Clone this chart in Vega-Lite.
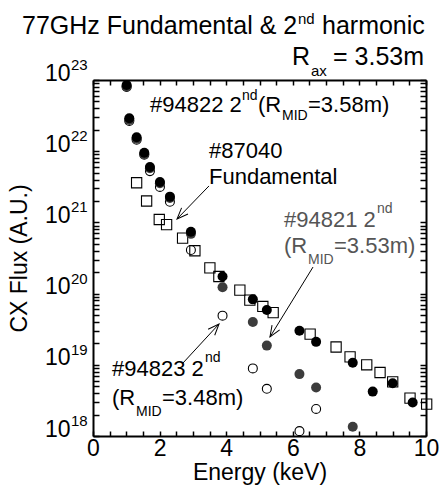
{
  "$schema": "https://vega.github.io/schema/vega-lite/v6.json",
  "autosize": "none",
  "width": 333,
  "height": 356,
  "padding": {"left": 93, "top": 80, "right": 19, "bottom": 51},
  "background": "white",
  "config": {
    "font": "Liberation Sans",
    "view": {"stroke": null},
    "axis": {
      "domainColor": "black", "domainWidth": 2, "tickColor": "black", "tickWidth": 1.5,
      "labelColor": "black", "titleColor": "black", "grid": false,
      "labelFont": "Liberation Sans", "titleFont": "Liberation Sans", "titleFontWeight": "normal",
      "labelOverlap": false, "labelFlush": false
    }
  },
  "datasets": {
    "pts": [
      {"s": "87040", "energy": 1.31, "flux": 3.6e21},
      {"s": "87040", "energy": 1.61, "flux": 2.0e21},
      {"s": "87040", "energy": 1.99, "flux": 1.1e21},
      {"s": "87040", "energy": 2.21, "flux": 9.3e20},
      {"s": "87040", "energy": 2.69, "flux": 6.0e20},
      {"s": "87040", "energy": 3.06, "flux": 4.0e20},
      {"s": "87040", "energy": 3.51, "flux": 2.3e20},
      {"s": "87040", "energy": 3.78, "flux": 1.74e20},
      {"s": "87040", "energy": 4.41, "flux": 1.12e20},
      {"s": "87040", "energy": 4.71, "flux": 8.1e19},
      {"s": "87040", "energy": 5.10, "flux": 6.6e19},
      {"s": "87040", "energy": 5.41, "flux": 5.4e19},
      {"s": "87040", "energy": 6.52, "flux": 2.7e19},
      {"s": "87040", "energy": 7.30, "flux": 1.78e19},
      {"s": "87040", "energy": 7.72, "flux": 1.29e19},
      {"s": "87040", "energy": 8.22, "flux": 1.0e19},
      {"s": "87040", "energy": 8.62, "flux": 7.8e18},
      {"s": "87040", "energy": 9.00, "flux": 5.75e18},
      {"s": "87040", "energy": 9.52, "flux": 3.4e18},
      {"s": "87040", "energy": 10.02, "flux": 2.8e18},
      {"s": "94823", "energy": 1.01, "flux": 8.0e22},
      {"s": "94823", "energy": 1.09, "flux": 2.65e22},
      {"s": "94823", "energy": 1.31, "flux": 1.45e22},
      {"s": "94823", "energy": 1.54, "flux": 8.9e21},
      {"s": "94823", "energy": 1.71, "flux": 5.25e21},
      {"s": "94823", "energy": 2.01, "flux": 3.15e21},
      {"s": "94823", "energy": 2.31, "flux": 1.95e21},
      {"s": "94823", "energy": 2.94, "flux": 4.1e20},
      {"s": "94823", "energy": 3.89, "flux": 4.9e19},
      {"s": "94823", "energy": 4.80, "flux": 8.9e18},
      {"s": "94823", "energy": 5.22, "flux": 4.6e18},
      {"s": "94823", "energy": 6.20, "flux": 1.17e18},
      {"s": "94823", "energy": 6.70, "flux": 2.4e18},
      {"s": "94821", "energy": 1.01, "flux": 8.1e22},
      {"s": "94821", "energy": 1.09, "flux": 2.75e22},
      {"s": "94821", "energy": 1.31, "flux": 1.5e22},
      {"s": "94821", "energy": 1.54, "flux": 9.1e21},
      {"s": "94821", "energy": 1.71, "flux": 5.75e21},
      {"s": "94821", "energy": 2.01, "flux": 3.55e21},
      {"s": "94821", "energy": 2.31, "flux": 2.2e21},
      {"s": "94821", "energy": 2.94, "flux": 6.9e20},
      {"s": "94821", "energy": 3.89, "flux": 1.23e20},
      {"s": "94821", "energy": 4.80, "flux": 4.0e19},
      {"s": "94821", "energy": 5.22, "flux": 1.86e19},
      {"s": "94821", "energy": 6.20, "flux": 7.4e18},
      {"s": "94821", "energy": 6.70, "flux": 4.8e18},
      {"s": "94821", "energy": 7.80, "flux": 1.35e18},
      {"s": "94822", "energy": 1.01, "flux": 8.5e22},
      {"s": "94822", "energy": 1.09, "flux": 2.9e22},
      {"s": "94822", "energy": 1.31, "flux": 1.57e22},
      {"s": "94822", "energy": 1.54, "flux": 9.5e21},
      {"s": "94822", "energy": 1.71, "flux": 6.0e21},
      {"s": "94822", "energy": 2.01, "flux": 3.7e21},
      {"s": "94822", "energy": 2.31, "flux": 2.3e21},
      {"s": "94822", "energy": 2.94, "flux": 7.4e20},
      {"s": "94822", "energy": 3.89, "flux": 1.74e20},
      {"s": "94822", "energy": 4.80, "flux": 8.3e19},
      {"s": "94822", "energy": 5.22, "flux": 5.9e19},
      {"s": "94822", "energy": 6.20, "flux": 3.0e19},
      {"s": "94822", "energy": 6.70, "flux": 2.1e19},
      {"s": "94822", "energy": 7.80, "flux": 1.07e19},
      {"s": "94822", "energy": 8.40, "flux": 4.2e18},
      {"s": "94822", "energy": 9.00, "flux": 5.5e18},
      {"s": "94822", "energy": 9.60, "flux": 2.95e18}
    ],
    "notes": [
      {"k": "tmain", "g": "k", "t": "77GHz Fundamental & 2", "x": -2.132, "y": 4.43e23},
      {"k": "tsup", "g": "k", "t": "nd", "x": 6.156, "y": 6.12e23},
      {"k": "tmain", "g": "k", "t": "harmonic", "x": 6.877, "y": 4.43e23},
      {"k": "tmain", "g": "k", "t": "R", "x": 5.976, "y": 1.625e23},
      {"k": "tsub", "g": "k", "t": "ax", "x": 6.547, "y": 1.138e23},
      {"k": "tmain", "g": "k", "t": "= 3.53m", "x": 7.207, "y": 1.625e23},
      {"k": "main", "g": "k", "t": "#94822 2", "x": 1.712, "y": 3.56e22},
      {"k": "sup", "g": "k", "t": "nd", "x": 4.474, "y": 5.24e22},
      {"k": "main", "g": "k", "t": "(R", "x": 4.955, "y": 3.56e22},
      {"k": "sub", "g": "k", "t": "MID", "x": 5.676, "y": 2.74e22},
      {"k": "main", "g": "k", "t": "=3.58m)", "x": 6.456, "y": 3.56e22},
      {"k": "main", "g": "k", "t": "#87040", "x": 3.483, "y": 8.02e21},
      {"k": "main", "g": "k", "t": "Fundamental", "x": 3.483, "y": 3.46e21},
      {"k": "main", "g": "g", "t": "#94821 2", "x": 5.736, "y": 8.61e20},
      {"k": "sup", "g": "g", "t": "nd", "x": 8.529, "y": 1.355e21},
      {"k": "main", "g": "g", "t": "(R", "x": 5.736, "y": 3.72e20},
      {"k": "sub", "g": "g", "t": "MID", "x": 6.456, "y": 2.61e20},
      {"k": "main", "g": "g", "t": "=3.53m)", "x": 7.237, "y": 3.72e20},
      {"k": "main", "g": "k", "t": "#94823 2", "x": 0.571, "y": 6.96e18},
      {"k": "sup", "g": "k", "t": "nd", "x": 3.363, "y": 1.095e19},
      {"k": "main", "g": "k", "t": "(R", "x": 0.571, "y": 2.72e18},
      {"k": "sub", "g": "k", "t": "MID", "x": 1.291, "y": 1.91e18},
      {"k": "main", "g": "k", "t": "=3.48m)", "x": 2.072, "y": 2.72e18}
    ],
    "dec": [
      {"v": 1e18, "e": "18"},
      {"v": 1e19, "e": "19"},
      {"v": 1e20, "e": "20"},
      {"v": 1e21, "e": "21"},
      {"v": 1e22, "e": "22"},
      {"v": 1e23, "e": "23"}
    ],
    "arrows": [
      {"a": 2, "x": 3.483, "y": 3.25e21, "x2": 2.523, "y2": 1.117e21},
      {"a": 3, "x": 6.607, "y": 2.36e20, "x2": 5.315, "y2": 2.46e19},
      {"a": 4, "x": 2.703, "y": 1.06e19, "x2": 3.784, "y2": 3.74e19}
    ]
  },
  "resolve": {"axis": {"x": "independent", "y": "independent"}},
  "layer": [
    {
      "data": {"name": "pts"},
      "transform": [{"filter": "datum.s === '87040'"}],
      "mark": {"type": "point", "shape": "square", "filled": false, "stroke": "black", "strokeWidth": 1.1, "size": 105, "opacity": 1},
      "encoding": {
        "x": {"field": "energy", "type": "quantitative", "scale": {"domain": [0, 10], "nice": false, "zero": false},
          "axis": {"orient": "bottom", "values": [0,0.5,1,1.5,2,2.5,3,3.5,4,4.5,5,5.5,6,6.5,7,7.5,8,8.5,9,9.5,10],
            "labelExpr": "datum.value % 2 === 0 ? format(datum.value, 'd') : ''", "tickSize": -5, "labelPadding": 6, "labelFontSize": 23,
            "title": "Energy (keV)", "titleFontSize": 23, "titleY": 43, "titleBaseline": "alphabetic"}},
        "y": {"field": "flux", "type": "quantitative", "scale": {"type": "log", "domain": [1e18, 1e23], "nice": false},
          "axis": {"orient": "left",
            "values": [1e18,2e18,3e18,4e18,5e18,6e18,7e18,8e18,9e18,1e19,2e19,3e19,4e19,5e19,6e19,7e19,8e19,9e19,1e20,2e20,3e20,4e20,5e20,6e20,7e20,8e20,9e20,1e21,2e21,3e21,4e21,5e21,6e21,7e21,8e21,9e21,1e22,2e22,3e22,4e22,5e22,6e22,7e22,8e22,9e22,1e23],
            "labelExpr": "datum.value == 1e18 || datum.value == 1e19 || datum.value == 1e20 || datum.value == 1e21 || datum.value == 1e22 || datum.value == 1e23 ? '10' : ''",
            "tickSize": -6, "labelPadding": 29, "labelFontSize": 23, "labelBaseline": "alphabetic", "labelAlign": "right",
            "title": "CX Flux (A.U.)", "titleFontSize": 23, "titleX": -67, "titleY": 178, "titleBaseline": "alphabetic", "titleAngle": -90}}
      }
    },
    {
      "data": {"name": "pts"},
      "transform": [{"filter": "datum.s === '94823'"}],
      "mark": {"type": "point", "shape": "circle", "filled": false, "stroke": "black", "strokeWidth": 1.1, "size": 80, "opacity": 1},
      "encoding": {
        "x": {"field": "energy", "type": "quantitative", "scale": {"domain": [0, 10], "nice": false, "zero": false},
          "axis": {"orient": "top", "values": [0,0.5,1,1.5,2,2.5,3,3.5,4,4.5,5,5.5,6,6.5,7,7.5,8,8.5,9,9.5,10], "labels": false, "tickSize": -5, "title": null}},
        "y": {"field": "flux", "type": "quantitative", "scale": {"type": "log", "domain": [1e18, 1e23], "nice": false},
          "axis": {"orient": "right",
            "values": [1e18,2e18,3e18,4e18,5e18,6e18,7e18,8e18,9e18,1e19,2e19,3e19,4e19,5e19,6e19,7e19,8e19,9e19,1e20,2e20,3e20,4e20,5e20,6e20,7e20,8e20,9e20,1e21,2e21,3e21,4e21,5e21,6e21,7e21,8e21,9e21,1e22,2e22,3e22,4e22,5e22,6e22,7e22,8e22,9e22,1e23],
            "labels": false, "tickSize": -6, "title": null}}
      }
    },
    {
      "data": {"name": "pts"},
      "transform": [{"filter": "datum.s === '94821'"}],
      "mark": {"type": "circle", "color": "#3c3c3c", "size": 100, "opacity": 1},
      "encoding": {
        "x": {"field": "energy", "type": "quantitative", "scale": {"domain": [0, 10], "nice": false, "zero": false}, "axis": null},
        "y": {"field": "flux", "type": "quantitative", "scale": {"type": "log", "domain": [1e18, 1e23], "nice": false}, "axis": null}
      }
    },
    {
      "data": {"name": "pts"},
      "transform": [{"filter": "datum.s === '94822'"}],
      "mark": {"type": "circle", "color": "black", "size": 100, "opacity": 1},
      "encoding": {
        "x": {"field": "energy", "type": "quantitative", "scale": {"domain": [0, 10], "nice": false, "zero": false}, "axis": null},
        "y": {"field": "flux", "type": "quantitative", "scale": {"type": "log", "domain": [1e18, 1e23], "nice": false}, "axis": null}
      }
    },
    {
      "data": {"name": "dec"},
      "mark": {"type": "text", "fontSize": 15, "align": "left", "baseline": "alphabetic", "dy": -10, "font": "Liberation Sans", "color": "black"},
      "encoding": {
        "x": {"datum": -0.66, "type": "quantitative", "scale": {"domain": [0, 10], "nice": false, "zero": false}, "axis": null},
        "y": {"field": "v", "type": "quantitative", "scale": {"type": "log", "domain": [1e18, 1e23], "nice": false}, "axis": null},
        "text": {"field": "e"}
      }
    },
    {
      "data": {"name": "arrows"},
      "mark": {"type": "rule", "color": "black", "strokeWidth": 1},
      "encoding": {
        "x": {"field": "x", "type": "quantitative", "scale": {"domain": [0, 10], "nice": false, "zero": false}, "axis": null},
        "y": {"field": "y", "type": "quantitative", "scale": {"type": "log", "domain": [1e18, 1e23], "nice": false}, "axis": null},
        "x2": {"field": "x2"},
        "y2": {"field": "y2"}
      }
    },
    {
      "data": {"name": "arrows"},
      "transform": [{"filter": "datum.a === 2"}],
      "mark": {"type": "point", "shape": "M-0.4,1L0,0L0.4,1", "filled": false, "stroke": "black", "strokeWidth": 1, "size": 500, "angle": 224, "opacity": 1},
      "encoding": {
        "x": {"field": "x2", "type": "quantitative", "scale": {"domain": [0, 10], "nice": false, "zero": false}, "axis": null},
        "y": {"field": "y2", "type": "quantitative", "scale": {"type": "log", "domain": [1e18, 1e23], "nice": false}, "axis": null}
      }
    },
    {
      "data": {"name": "arrows"},
      "transform": [{"filter": "datum.a === 3"}],
      "mark": {"type": "point", "shape": "M-0.4,1L0,0L0.4,1", "filled": false, "stroke": "black", "strokeWidth": 1, "size": 500, "angle": 211.6, "opacity": 1},
      "encoding": {
        "x": {"field": "x2", "type": "quantitative", "scale": {"domain": [0, 10], "nice": false, "zero": false}, "axis": null},
        "y": {"field": "y2", "type": "quantitative", "scale": {"type": "log", "domain": [1e18, 1e23], "nice": false}, "axis": null}
      }
    },
    {
      "data": {"name": "arrows"},
      "transform": [{"filter": "datum.a === 4"}],
      "mark": {"type": "point", "shape": "M-0.4,1L0,0L0.4,1", "filled": false, "stroke": "black", "strokeWidth": 1, "size": 500, "angle": 42.7, "opacity": 1},
      "encoding": {
        "x": {"field": "x2", "type": "quantitative", "scale": {"domain": [0, 10], "nice": false, "zero": false}, "axis": null},
        "y": {"field": "y2", "type": "quantitative", "scale": {"type": "log", "domain": [1e18, 1e23], "nice": false}, "axis": null}
      }
    },
    {
      "data": {"name": "notes"},
      "transform": [{"filter": "datum.k === 'tmain'"}],
      "mark": {"type": "text", "fontSize": 25, "align": "left", "baseline": "alphabetic", "font": "Liberation Sans"},
      "encoding": {
        "x": {"field": "x", "type": "quantitative", "scale": {"domain": [0, 10], "nice": false, "zero": false}, "axis": null},
        "y": {"field": "y", "type": "quantitative", "scale": {"type": "log", "domain": [1e18, 1e23], "nice": false}, "axis": null},
        "text": {"field": "t"},
        "color": {"value": "black"}
      }
    },
    {
      "data": {"name": "notes"},
      "transform": [{"filter": "datum.k === 'tsup' || datum.k === 'tsub'"}],
      "mark": {"type": "text", "fontSize": 15, "align": "left", "baseline": "alphabetic", "font": "Liberation Sans"},
      "encoding": {
        "x": {"field": "x", "type": "quantitative", "scale": {"domain": [0, 10], "nice": false, "zero": false}, "axis": null},
        "y": {"field": "y", "type": "quantitative", "scale": {"type": "log", "domain": [1e18, 1e23], "nice": false}, "axis": null},
        "text": {"field": "t"},
        "color": {"value": "black"}
      }
    },
    {
      "data": {"name": "notes"},
      "transform": [{"filter": "datum.k === 'main'"}],
      "mark": {"type": "text", "fontSize": 22, "align": "left", "baseline": "alphabetic", "font": "Liberation Sans"},
      "encoding": {
        "x": {"field": "x", "type": "quantitative", "scale": {"domain": [0, 10], "nice": false, "zero": false}, "axis": null},
        "y": {"field": "y", "type": "quantitative", "scale": {"type": "log", "domain": [1e18, 1e23], "nice": false}, "axis": null},
        "text": {"field": "t"},
        "color": {"field": "g", "type": "nominal", "scale": {"domain": ["k", "g"], "range": ["black", "#555555"]}, "legend": null}
      }
    },
    {
      "data": {"name": "notes"},
      "transform": [{"filter": "datum.k === 'sup' || datum.k === 'sub'"}],
      "mark": {"type": "text", "fontSize": 14, "align": "left", "baseline": "alphabetic", "font": "Liberation Sans"},
      "encoding": {
        "x": {"field": "x", "type": "quantitative", "scale": {"domain": [0, 10], "nice": false, "zero": false}, "axis": null},
        "y": {"field": "y", "type": "quantitative", "scale": {"type": "log", "domain": [1e18, 1e23], "nice": false}, "axis": null},
        "text": {"field": "t"},
        "color": {"field": "g", "type": "nominal", "scale": {"domain": ["k", "g"], "range": ["black", "#555555"]}, "legend": null}
      }
    }
  ]
}
